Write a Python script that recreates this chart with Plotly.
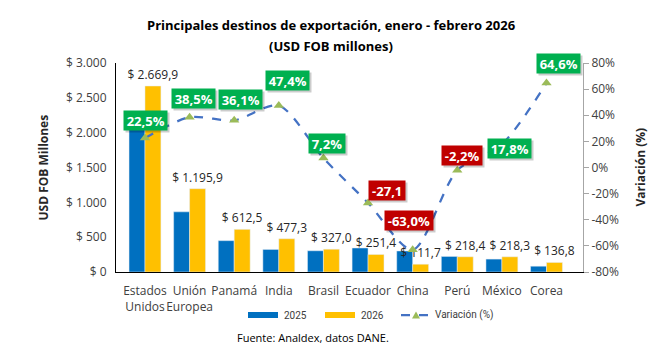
import plotly.graph_objects as go

categories = ["Estados<br>Unidos", "Unión<br>Europea", "Panamá", "India", "Brasil",
              "Ecuador", "China", "Perú", "México", "Corea"]
v2025 = [2179.5, 863.5, 450.0, 323.8, 305.0, 344.9, 301.9, 223.3, 185.3, 83.1]
v2026 = [2669.9, 1195.9, 612.5, 477.3, 327.0, 251.4, 111.7, 218.4, 218.3, 136.8]
variacion = [22.5, 38.5, 36.1, 47.4, 7.2, -27.1, -63.0, -2.2, 17.8, 64.6]
var_labels = ["22,5%", "38,5%", "36,1%", "47,4%", "7,2%", "-27,1", "-63,0%", "-2,2%", "17,8%", "64,6%"]
# label offsets (px) relative to the marker
lab_dx = [1, 4, 6, 9, 4, 19, -4, 5, 8, 12]
lab_dy = [18, 19, 21, 25, 15, 12, 29, 15, -4, 20]

left_ticks = [0, 500, 1000, 1500, 2000, 2500, 3000]
left_ticktext = ["$ 0", "$ 500", "$ 1.000", "$ 1.500", "$ 2.000", "$ 2.500", "$ 3.000"]
right_ticks = [-80, -60, -40, -20, 0, 20, 40, 60, 80]
right_ticktext = [f"{t}%" for t in right_ticks]

C2025, C2026, CLINE, CMARK = "#0070C0", "#FFC000", "#4472C4", "#9BBB59"


def fmt_es(v):
    s = f"{v:,.1f}"
    return "$ " + s.replace(",", "X").replace(".", ",").replace("X", ".")


def text_w(t):
    w = {",": 3.8, "%": 11.3, "-": 4.4}
    return sum(w.get(ch, 7.4) for ch in t)


FONT = "Open Sans"
fig = go.Figure()
fig.add_trace(go.Bar(x=categories, y=v2025, name="2025", marker_color=C2025))
fig.add_trace(go.Bar(x=categories, y=v2026, name="2026", marker_color=C2026,
                     text=[fmt_es(v) for v in v2026], textposition="outside",
                     constraintext="none", cliponaxis=False,
                     textfont=dict(family=FONT, size=12, color="#262626")))
fig.add_trace(go.Scatter(x=categories, y=variacion, name="Variación (%)", yaxis="y2",
                         mode="lines+markers", cliponaxis=False,
                         line=dict(color=CLINE, width=2.25, dash="dash", shape="spline", smoothing=0.8),
                         marker=dict(symbol="triangle-up", size=9, color=CMARK)))

annotations = []
for c, v, t, dx, dy in zip(categories, variacion, var_labels, lab_dx, lab_dy):
    bg = "#00B050" if v >= 0 else "#C00000"
    annotations.append(dict(x=c, y=v, xref="x", yref="y2", text="&nbsp;", showarrow=False,
                            xshift=dx + 2, yshift=dy - 2, bgcolor="rgba(0,0,0,0.2)",
                            width=text_w(t) + 2, height=15,
                            font=dict(family=FONT, size=13, color="rgba(0,0,0,0)"),
                            borderpad=2))
    annotations.append(dict(x=c, y=v, xref="x", yref="y2", text=f"<b>{t}</b>", showarrow=False,
                            xshift=dx, yshift=dy, bgcolor=bg, width=text_w(t) + 2, height=15,
                            font=dict(family=FONT, size=13, color="white"),
                            borderpad=2))


def px(x):
    return (x - 116) / 467


def py(y):
    return (272 - y) / 209


annotations += [
    dict(x=px(331), y=py(25), xref="paper", yref="paper",
         text="<b>Principales destinos de exportación, enero - febrero 2026</b>",
         xanchor="center", yanchor="middle", showarrow=False,
         font=dict(family=FONT, size=13, color="#000000")),
    dict(x=px(331), y=py(46), xref="paper", yref="paper",
         text="<b>(USD FOB millones)</b>",
         xanchor="center", yanchor="middle", showarrow=False,
         font=dict(family=FONT, size=13, color="#000000")),
    dict(x=px(43), y=0.5, xref="paper", yref="paper", text="<b>USD FOB Millones</b>",
         xanchor="center", yanchor="middle",
         textangle=-90, showarrow=False, font=dict(family=FONT, size=12, color="#262626")),
    dict(x=px(640), y=0.5, xref="paper", yref="paper", text="<b>Variación (%)</b>",
         xanchor="center", yanchor="middle",
         textangle=-90, showarrow=False, font=dict(family=FONT, size=12, color="#262626")),
    dict(x=px(313), y=py(337), xref="paper", yref="paper", text="Fuente: Analdex, datos DANE.",
         xanchor="center", yanchor="middle",
         showarrow=False, font=dict(family=FONT, size=11, color="#000000")),
]

# custom legend (wide patches like the original)
LEGY = 315
legend_items = [("2025", C2025, 248, 282), ("2026", C2026, 325, 359)]
shapes = []
for name, col, x0, tx in legend_items:
    shapes.append(dict(type="rect", xref="paper", yref="paper", x0=px(x0), x1=px(x0 + 30),
                       y0=py(LEGY + 3), y1=py(LEGY - 3), fillcolor=col, line=dict(width=0)))
    annotations.append(dict(x=px(tx), y=py(LEGY), xref="paper", yref="paper", text=name,
                            xanchor="left", yanchor="middle", showarrow=False,
                            font=dict(family="Roboto", size=10, color="#404040")))
shapes.append(dict(type="line", xref="paper", yref="paper", x0=px(401), x1=px(431),
                   y0=py(LEGY), y1=py(LEGY), line=dict(color=CLINE, width=2.25, dash="dash")))
shapes.append(dict(type="path", xref="paper", yref="paper",
                   path=f"M {px(412)} {py(LEGY + 3.5)} L {px(420)} {py(LEGY + 3.5)} L {px(416)} {py(LEGY - 3.5)} Z",
                   fillcolor=CMARK, line=dict(width=0)))
annotations.append(dict(x=px(433), y=py(LEGY), xref="paper", yref="paper", text="Variación (%)",
                        xanchor="left", yanchor="middle", showarrow=False,
                        font=dict(family="Roboto", size=10, color="#404040")))

fig.update_layout(
    width=663, height=352,
    margin=dict(l=116, r=80, t=63, b=80),
    paper_bgcolor="white", plot_bgcolor="white",
    barmode="group", bargap=0.285, bargroupgap=0,
    font=dict(family=FONT, size=12, color="#404040"),
    xaxis=dict(showline=True, linecolor="#000000", linewidth=1, showgrid=False, tickangle=0,
               tickfont=dict(family=FONT, size=12, color="#404040"), ticks="",
               ticklabelstandoff=8),
    yaxis=dict(range=[0, 3000], tickvals=left_ticks, ticktext=left_ticktext,
               showline=True, linecolor="#000000", linewidth=1, showgrid=False, zeroline=False,
               tickfont=dict(family=FONT, size=12, color="#404040"), ticks="", ticklabelstandoff=6),
    yaxis2=dict(range=[-80, 80], tickvals=right_ticks, ticktext=right_ticktext, overlaying="y",
                side="right", showline=True, linecolor="#A6A6A6", linewidth=1, showgrid=False,
                zeroline=False, ticks="outside", ticklen=5, tickcolor="#A6A6A6",
                tickfont=dict(family=FONT, size=12, color="#404040")),
    showlegend=False,
    annotations=annotations,
    shapes=shapes,
)

fig.write_html("out.html")
